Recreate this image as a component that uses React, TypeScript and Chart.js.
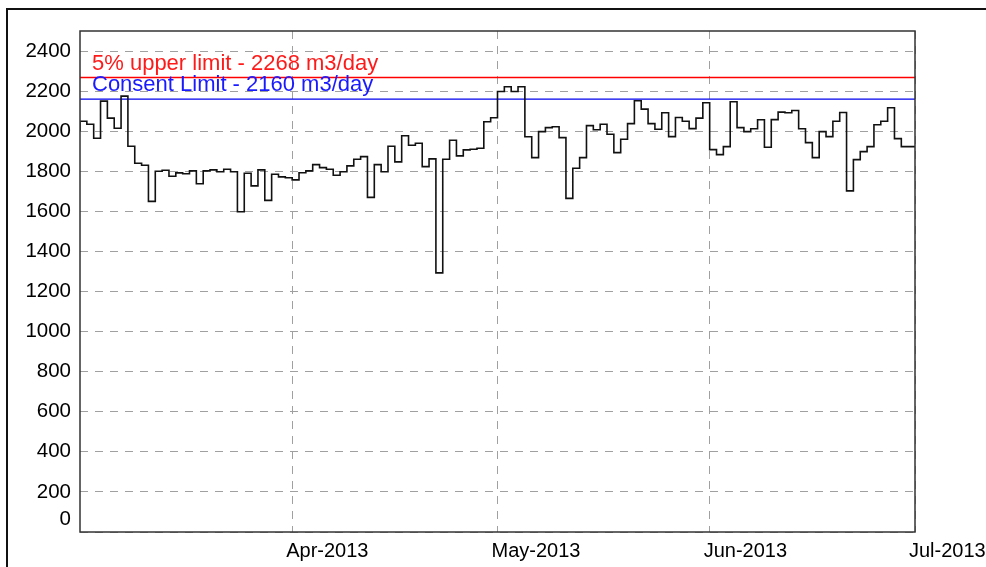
import React, { useEffect, useRef } from 'react';
import { Chart, registerables } from 'chart.js';

Chart.register(...registerables);

// Daily flow (m3/day), 1 Mar 2013 .. 30 Jun 2013 (day index 0 = 1 Mar 2013)
const flowValues: number[] = [
  2000, 2050, 2035, 1965, 2150, 2065, 2015, 2175, 1925, 1840,
  1830, 1650, 1800, 1805, 1775, 1792, 1788, 1802, 1738, 1802,
  1807, 1798, 1810, 1798, 1598, 1790, 1727, 1807, 1655, 1785,
  1772, 1768, 1757, 1793, 1802, 1833, 1818, 1810, 1780, 1798,
  1827, 1860, 1873, 1670, 1833, 1798, 1925, 1847, 1977, 1930,
  1940, 1823, 1862, 1293, 1860, 1955, 1877, 1907, 1910, 1915,
  2047, 2067, 2198, 2222, 2198, 2222, 1972, 1868, 1998, 2018,
  2022, 1968, 1665, 1815, 1868, 2028, 2007, 2035, 1985, 1893,
  1960, 2038, 2152, 2110, 2038, 2010, 2092, 1973, 2068, 2050,
  2013, 2065, 2142, 1908, 1883, 1923, 2147, 2018, 1998, 2012,
  2057, 1920, 2058, 2095, 2092, 2103, 2012, 1943, 1868, 1998,
  1973, 2050, 2093, 1702, 1858, 1898, 1923, 2032, 2050, 2117,
  1963, 1923,
];

const xTickDays: number[] = [31, 61, 92, 122];
const xTickLabels: string[] = ['Apr-2013', 'May-2013', 'Jun-2013', 'Jul-2013'];
const yTickValues: number[] = [0, 200, 400, 600, 800, 1000, 1200, 1400, 1600, 1800, 2000, 2200, 2400];

const upperLimit = 2268;
const consentLimit = 2160;
const upperLimitLabel = '5% upper limit - 2268 m3/day';
const consentLimitLabel = 'Consent Limit - 2160 m3/day';

const FONT = '"Liberation Sans", Arial, Helvetica, sans-serif';

export default function App() {
  const canvasRef = useRef<HTMLCanvasElement | null>(null);

  useEffect(() => {
    document.body.style.margin = '0';
    const canvas = canvasRef.current;
    if (!canvas) return;

    const nDays = flowValues.length;
    const flowPoints = flowValues.map((v, i) => ({ x: i, y: v }));
    flowPoints.push({ x: nDays, y: flowValues[nDays - 1] });

    const framePlugin = {
      id: 'frameAndLabels',
      afterDatasetsDraw(chart: any) {
        const { ctx, chartArea, scales } = chart;
        const y = scales.y;
        ctx.save();
        ctx.font = `22px ${FONT}`;
        ctx.textBaseline = 'alphabetic';
        ctx.textAlign = 'left';
        ctx.fillStyle = '#ff1a1a';
        ctx.fillText(upperLimitLabel, chartArea.left + 12, y.getPixelForValue(upperLimit) - 7.5);
        ctx.fillStyle = '#1a1aff';
        ctx.fillText(consentLimitLabel, chartArea.left + 12, y.getPixelForValue(consentLimit) - 8.3);
        ctx.restore();
      },
      afterDraw(chart: any) {
        const { ctx, chartArea } = chart;
        ctx.save();
        ctx.strokeStyle = '#333';
        ctx.lineWidth = 1.5;
        ctx.strokeRect(chartArea.left, chartArea.top, chartArea.right - chartArea.left, chartArea.bottom - chartArea.top);
        ctx.strokeStyle = '#111';
        ctx.lineWidth = 2;
        ctx.strokeRect(7, 9, chart.width + 20, chart.height + 20);
        ctx.restore();
      },
    };

    const chart = new Chart(canvas, {
      type: 'line',
      data: {
        datasets: [
          {
            label: 'Flow',
            data: flowPoints,
            stepped: 'after',
            borderColor: '#111',
            borderWidth: 1.6,
            pointRadius: 0,
            fill: false,
          },
          {
            label: 'Upper limit',
            data: [{ x: 0, y: upperLimit }, { x: nDays, y: upperLimit }],
            borderColor: '#ff0000',
            backgroundColor: '#ff0000',
            borderWidth: 1.3,
            pointRadius: 0,
            fill: false,
          },
          {
            label: 'Consent limit',
            data: [{ x: 0, y: consentLimit }, { x: nDays, y: consentLimit }],
            borderColor: '#0000ee',
            backgroundColor: '#0000ee',
            borderWidth: 1.3,
            pointRadius: 0,
            fill: false,
          },
        ],
      },
      options: {
        animation: false,
        responsive: false,
        devicePixelRatio: 1,
        layout: { padding: { top: 31, right: 71, bottom: 0, left: 0 } },
        plugins: {
          legend: { display: false },
          tooltip: { enabled: false },
        },
        scales: {
          x: {
            type: 'linear',
            min: 0,
            max: nDays,
            afterBuildTicks: (s: any) => {
              s.ticks = xTickDays.map((v) => ({ value: v }));
            },
            afterFit: (s: any) => {
              s.height = 35;
              s.paddingLeft = 0;
              s.paddingRight = 0;
            },
            ticks: {
              autoSkip: false,
              maxRotation: 0,
              minRotation: 0,
              align: 'start',
              labelOffset: -6,
              padding: 7,
              color: '#000',
              font: { family: FONT, size: 20 },
              callback: (v: any) => {
                const i = xTickDays.indexOf(Number(v));
                return i >= 0 ? xTickLabels[i] : '';
              },
            },
            grid: { color: '#a0a0a0', lineWidth: 1, drawTicks: false },
            border: { display: false, dash: [8, 7] },
          },
          y: {
            type: 'linear',
            min: 0,
            max: 2500,
            afterBuildTicks: (s: any) => {
              s.ticks = yTickValues.map((v) => ({ value: v }));
            },
            afterFit: (s: any) => {
              s.width = 80;
            },
            ticks: {
              autoSkip: false,
              padding: 9,
              color: '#000',
              font: { family: FONT, size: 20.5 },
              callback: (v: any) => (Number(v) === 0 ? ['0', ''] : String(v)),
            },
            grid: { color: '#a0a0a0', lineWidth: 1, drawTicks: false },
            border: { display: false, dash: [8, 7] },
          },
        },
      } as any,
      plugins: [framePlugin],
    });

    return () => chart.destroy();
  }, []);

  return (
    <div style={{ width: 986, height: 567, background: '#fff' }}>
      <canvas ref={canvasRef} width={986} height={567} style={{ display: 'block' }} />
    </div>
  );
}
